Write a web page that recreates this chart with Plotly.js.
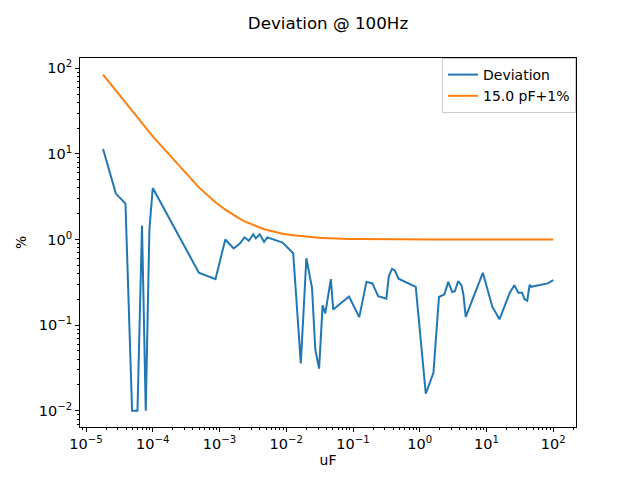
<!DOCTYPE html>
<html>
<head>
<meta charset="utf-8">
<script src="https://cdn.plot.ly/plotly-3.0.1.min.js"></script>
<style>
  html, body { margin: 0; padding: 0; background: #fff; }
  #chart { width: 640px; height: 480px; }
</style>
</head>
<body>
<div id="chart"></div>
<script>
// capacitance in uF (same sample points for both series)
const capUF = [
  1.8e-5, 2.8e-5, 3.9e-5, 4.9e-5, 5.9e-5, 6.9e-5, 7.85e-5, 8.9e-5, 1.0e-4,
  4.9e-4, 8.7e-4, 1.22e-3, 1.63e-3, 2.0e-3, 2.37e-3, 2.75e-3, 3.2e-3, 3.5e-3,
  4.0e-3, 4.65e-3, 5.2e-3, 8.8e-3, 1.27e-2, 1.65e-2, 2.0e-2, 2.43e-2, 2.72e-2,
  3.1e-2, 3.5e-2, 3.84e-2, 4.65e-2, 5.05e-2, 8.7e-2, 0.124, 0.159, 0.195,
  0.238, 0.316, 0.343, 0.384, 0.42, 0.48, 0.87, 1.23, 1.6, 1.94, 2.33, 2.67,
  3.06, 3.35, 3.76, 4.2, 4.5, 4.88, 8.8, 12.2, 15.6, 19.2, 22.3, 26.1, 29.9,
  34, 37.2, 40.7, 44.2, 46.7, 82.6, 100
];

// measured deviation, %
const deviation = [
  11.4, 3.44, 2.63, 0.01, 0.01, 1.46, 0.01, 1.3, 4.0,
  0.41, 0.344, 1.0, 0.785, 0.89, 1.06, 0.965, 1.15, 1.03,
  1.15, 0.94, 1.06, 0.92, 0.69, 0.0357, 0.605, 0.273, 0.052,
  0.031, 0.17, 0.137, 0.344, 0.152, 0.216, 0.124, 0.32, 0.307,
  0.218, 0.203, 0.373, 0.455, 0.438, 0.348, 0.28, 0.0158, 0.0278, 0.214, 0.228, 0.32,
  0.243, 0.249, 0.327, 0.293, 0.228, 0.125, 0.408, 0.164, 0.117, 0.182, 0.239, 0.293, 0.239,
  0.239, 0.2, 0.193, 0.296, 0.28, 0.307, 0.335
];

// tolerance limit, 15.0 pF + 1 %
const limit = [
  84.3, 54.6, 39.5, 31.6, 26.4, 22.7, 20.1, 17.9, 16.0,
  4.06, 2.72, 2.23, 1.92, 1.75, 1.63, 1.55, 1.47, 1.43,
  1.375, 1.32, 1.29, 1.17, 1.118, 1.091, 1.075, 1.062, 1.055,
  1.048, 1.043, 1.039, 1.032, 1.030, 1.017, 1.012, 1.009, 1.008,
  1.006, 1.005, 1.004, 1.004, 1.004, 1.003, 1.002, 1.001, 1.001, 1.0, 1.0, 1.0,
  1.0, 1.0, 1.0, 1.0, 1.0, 1.0, 1.0, 1.0, 1.0, 1.0, 1.0, 1.0, 1.0,
  1.0, 1.0, 1.0, 1.0, 1.0, 1.0, 1.0
];

const seriesNames = ['Deviation', '15.0 pF+1%'];
const titleText = 'Deviation @ 100Hz';

// major ticks (decades) and their labels
const xTickVals = [1e-5, 1e-4, 1e-3, 1e-2, 1e-1, 1, 10, 100];
const xTickText = ['10<sup>−5</sup>', '10<sup>−4</sup>', '10<sup>−3</sup>', '10<sup>−2</sup>',
                   '10<sup>−1</sup>', '10<sup>0</sup>', '10<sup>1</sup>', '10<sup>2</sup>'];
const yTickVals = [1e-2, 1e-1, 1, 10, 100];
const yTickText = ['10<sup>−2</sup>', '10<sup>−1</sup>', '10<sup>0</sup>', '10<sup>1</sup>', '10<sup>2</sup>'];

// minor ticks: 2..9 within each decade
function minorTicks(fromExp, toExp) {
  const out = [];
  for (let e = fromExp; e <= toExp; e++)
    for (let m = 2; m <= 9; m++) out.push(m * Math.pow(10, e));
  return out;
}

const FONT = 'DejaVu Sans, sans-serif';
const X_RANGE = [-5.09, 2.34];
const Y_RANGE = [-2.19, 2.12];

const traces = [
  { type: 'scatter', mode: 'lines', x: capUF, y: deviation, name: seriesNames[0],
    line: { color: '#1f77b4', width: 2 } },
  { type: 'scatter', mode: 'lines', x: capUF, y: limit, name: seriesNames[1],
    line: { color: '#ff7f0e', width: 2 } },
  // carrier for the minor-tick axes
  { type: 'scatter', mode: 'lines', x: [], y: [], xaxis: 'x2', yaxis: 'y2',
    showlegend: false, hoverinfo: 'skip' }
];

const majorAxis = {
  type: 'log', tickmode: 'array',
  showgrid: false, zeroline: false,
  showline: true, linecolor: '#000', linewidth: 1, mirror: true,
  ticks: 'outside', ticklen: 4, tickwidth: 1, tickcolor: '#000',
  tickfont: { family: FONT, size: 14.5, color: '#000' }
};

const minorAxis = {
  type: 'log', tickmode: 'array', ticktext: [],
  showgrid: false, zeroline: false, showline: false, showticklabels: false,
  ticks: 'outside', ticklen: 2, tickwidth: 1, tickcolor: '#000'
};

const layout = {
  width: 640, height: 480,
  margin: { l: 80, r: 64, t: 58, b: 53 },
  paper_bgcolor: '#fff', plot_bgcolor: '#fff',
  font: { family: FONT, size: 13, color: '#000' },
  // centred over the axes box, like the reference
  title: { text: titleText, font: { family: FONT, size: 16.7, color: '#000' },
           xref: 'paper', x: 0.5, xanchor: 'center', y: 0.963, yanchor: 'top' },
  xaxis: Object.assign({}, majorAxis, {
    range: X_RANGE, tickvals: xTickVals, ticktext: xTickText,
    title: { text: 'uF', font: { family: FONT, size: 13.9 }, standoff: 3 }
  }),
  yaxis: Object.assign({}, majorAxis, {
    range: Y_RANGE, tickvals: yTickVals, ticktext: yTickText,
    title: { text: '%', font: { family: FONT, size: 13.9 }, standoff: 8 }
  }),
  xaxis2: Object.assign({}, minorAxis, {
    overlaying: 'x', side: 'bottom', anchor: 'y2', range: X_RANGE, tickvals: minorTicks(-6, 2)
  }),
  yaxis2: Object.assign({}, minorAxis, {
    overlaying: 'y', side: 'left', anchor: 'x2', range: Y_RANGE, tickvals: minorTicks(-3, 2)
  }),
  legend: {
    x: 1, xanchor: 'right', y: 1, yanchor: 'top',
    bgcolor: 'rgba(255,255,255,0.8)', bordercolor: '#cccccc', borderwidth: 1,
    font: { family: FONT, size: 14 }
  }
};

Plotly.newPlot('chart', traces, layout, { displayModeBar: false, staticPlot: true });
</script>
</body>
</html>
